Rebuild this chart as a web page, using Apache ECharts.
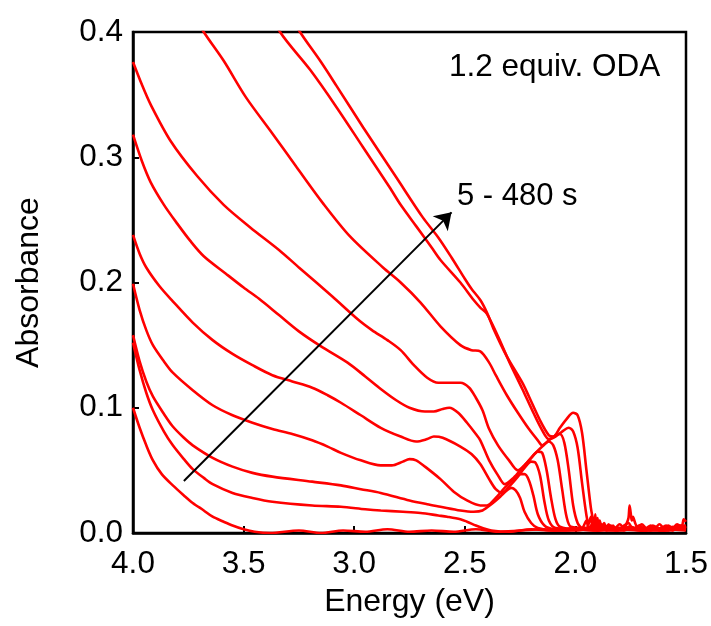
<!DOCTYPE html>
<html>
<head>
<meta charset="utf-8">
<script src="https://cdn.jsdelivr.net/npm/echarts@6/dist/echarts.min.js"></script>
<style>
html,body{margin:0;padding:0;background:#fff;}
#chart{width:711px;height:626px;}
</style>
</head>
<body>
<div id="chart"></div>
<script>
// Energy (eV) vs Absorbance, spectra from 5 s (first) to 480 s (last)
const X_TICKS = [4.0, 3.5, 3.0, 2.5, 2.0, 1.5];
const Y_TICKS = [0.0, 0.1, 0.2, 0.3, 0.4];
const LABEL_TOP = '1.2 equiv. ODA';
const LABEL_ARROW = '5 - 480 s';
const ARROW_FROM = [3.77, 0.0415];
const ARROW_TO = [2.56, 0.256];

const spec01 = [[4.00,0.100],[3.97,0.084],[3.94,0.070],[3.91,0.058],[3.87,0.047],[3.82,0.038],[3.77,0.030],[3.73,0.024],[3.68,0.018],[3.64,0.013],[3.59,0.009],[3.55,0.006],[3.50,0.003],[3.45,0.001],[3.38,0.000],[3.25,0.002],[3.15,0.000],[3.05,0.002],[2.95,0.001],[2.85,0.003],[2.75,0.001],[2.65,0.002],[2.55,0.001],[2.45,0.003],[2.35,0.001],[2.25,0.002],[2.15,0.003],[2.05,0.002],[1.95,0.004],[1.85,0.002],[1.75,0.003],[1.65,0.002],[1.55,0.003],[1.50,0.004]];
const spec02 = [[4.00,0.152],[3.97,0.130],[3.94,0.112],[3.91,0.098],[3.86,0.081],[3.82,0.070],[3.77,0.059],[3.73,0.051],[3.68,0.044],[3.64,0.039],[3.55,0.032],[3.46,0.028],[3.37,0.025],[3.19,0.022],[3.06,0.021],[2.95,0.019],[2.88,0.018],[2.78,0.017],[2.70,0.016],[2.62,0.014],[2.58,0.013],[2.52,0.011],[2.49,0.009],[2.45,0.006],[2.42,0.004],[2.38,0.002],[2.30,0.001],[2.20,0.003],[2.10,0.002],[2.00,0.003],[1.90,0.002],[1.80,0.004],[1.70,0.002],[1.60,0.003],[1.50,0.002]];
const spec03 = [[4.00,0.158],[3.97,0.137],[3.94,0.121],[3.91,0.109],[3.86,0.095],[3.82,0.085],[3.77,0.076],[3.73,0.070],[3.64,0.060],[3.55,0.053],[3.46,0.048],[3.37,0.045],[3.19,0.041],[3.06,0.038],[2.97,0.035],[2.88,0.032],[2.75,0.026],[2.67,0.023],[2.61,0.021],[2.52,0.018],[2.46,0.017],[2.42,0.018],[2.38,0.023],[2.34,0.029],[2.31,0.034],[2.29,0.036],[2.27,0.034],[2.25,0.028],[2.23,0.017],[2.20,0.008],[2.17,0.004],[2.10,0.002],[2.00,0.004],[1.90,0.003],[1.80,0.002],[1.70,0.004],[1.60,0.002],[1.50,0.004]];
const spec04 = [[4.00,0.199],[3.97,0.178],[3.94,0.162],[3.91,0.150],[3.86,0.137],[3.82,0.128],[3.73,0.114],[3.64,0.102],[3.55,0.094],[3.46,0.088],[3.37,0.083],[3.28,0.079],[3.19,0.074],[3.12,0.069],[3.06,0.064],[2.97,0.058],[2.88,0.054],[2.83,0.054],[2.78,0.057],[2.75,0.059],[2.72,0.058],[2.68,0.053],[2.61,0.043],[2.55,0.033],[2.49,0.026],[2.43,0.022],[2.40,0.022],[2.36,0.028],[2.32,0.036],[2.28,0.043],[2.25,0.047],[2.23,0.047],[2.21,0.042],[2.19,0.030],[2.17,0.015],[2.14,0.006],[2.10,0.003],[2.00,0.002],[1.90,0.004],[1.80,0.003],[1.70,0.002],[1.60,0.004],[1.50,0.003]];
const spec05 = [[4.00,0.238],[3.97,0.223],[3.94,0.212],[3.88,0.197],[3.82,0.185],[3.73,0.168],[3.64,0.154],[3.55,0.143],[3.46,0.134],[3.37,0.126],[3.28,0.121],[3.19,0.116],[3.12,0.110],[3.06,0.104],[2.97,0.094],[2.88,0.084],[2.79,0.077],[2.72,0.073],[2.67,0.075],[2.64,0.077],[2.60,0.076],[2.52,0.069],[2.47,0.063],[2.43,0.055],[2.39,0.043],[2.36,0.035],[2.33,0.032],[2.30,0.037],[2.26,0.045],[2.23,0.052],[2.20,0.057],[2.18,0.056],[2.16,0.046],[2.14,0.025],[2.12,0.010],[2.09,0.004],[2.00,0.003],[1.90,0.002],[1.80,0.004],[1.70,0.003],[1.60,0.002],[1.50,0.004]];
const spec06 = [[4.00,0.318],[3.96,0.297],[3.92,0.280],[3.86,0.262],[3.80,0.247],[3.74,0.233],[3.68,0.221],[3.58,0.207],[3.50,0.196],[3.43,0.187],[3.34,0.174],[3.25,0.161],[3.15,0.149],[3.03,0.136],[2.95,0.125],[2.88,0.115],[2.81,0.106],[2.75,0.100],[2.68,0.097],[2.64,0.097],[2.60,0.099],[2.57,0.100],[2.53,0.096],[2.49,0.088],[2.45,0.079],[2.43,0.074],[2.39,0.058],[2.35,0.046],[2.32,0.039],[2.28,0.044],[2.24,0.052],[2.20,0.060],[2.17,0.065],[2.15,0.064],[2.13,0.050],[2.11,0.028],[2.09,0.011],[2.07,0.005],[2.00,0.003],[1.90,0.004],[1.80,0.003],[1.70,0.004],[1.60,0.003],[1.50,0.004]];
const spec07 = [[4.00,0.376],[3.96,0.358],[3.92,0.342],[3.83,0.313],[3.71,0.285],[3.59,0.262],[3.47,0.244],[3.34,0.226],[3.25,0.212],[3.10,0.189],[2.98,0.170],[2.92,0.162],[2.85,0.154],[2.79,0.146],[2.73,0.134],[2.67,0.124],[2.62,0.120],[2.58,0.120],[2.52,0.120],[2.48,0.116],[2.45,0.108],[2.42,0.098],[2.39,0.083],[2.35,0.070],[2.30,0.058],[2.26,0.050],[2.23,0.054],[2.19,0.062],[2.15,0.069],[2.12,0.073],[2.10,0.070],[2.08,0.058],[2.06,0.035],[2.04,0.013],[2.02,0.005],[1.95,0.004],[1.90,0.008],[1.88,0.003],[1.85,0.006],[1.80,0.003],[1.75,0.005],[1.70,0.002],[1.65,0.005],[1.60,0.002],[1.55,0.005],[1.50,0.006]];
const spec08 = [[3.78,0.430],[3.68,0.400],[3.59,0.377],[3.49,0.348],[3.37,0.319],[3.26,0.292],[3.14,0.263],[3.02,0.237],[2.87,0.212],[2.79,0.200],[2.70,0.184],[2.61,0.165],[2.52,0.150],[2.47,0.146],[2.43,0.145],[2.39,0.136],[2.36,0.126],[2.31,0.110],[2.26,0.096],[2.21,0.083],[2.17,0.074],[2.15,0.070],[2.12,0.074],[2.09,0.078],[2.07,0.079],[2.05,0.072],[2.03,0.050],[2.01,0.022],[1.99,0.008],[1.97,0.004],[1.95,0.010],[1.94,0.003],[1.92,0.008],[1.90,0.002],[1.88,0.007],[1.86,0.003],[1.84,0.006],[1.81,0.002],[1.78,0.006],[1.76,0.008],[1.74,0.003],[1.71,0.006],[1.68,0.002],[1.65,0.006],[1.62,0.003],[1.59,0.006],[1.56,0.002],[1.53,0.006],[1.50,0.004]];
const spec09 = [[3.40,0.425],[3.335,0.400],[3.20,0.370],[3.08,0.340],[2.96,0.308],[2.84,0.276],[2.79,0.262],[2.72,0.245],[2.65,0.228],[2.61,0.218],[2.52,0.200],[2.46,0.186],[2.43,0.180],[2.40,0.175],[2.35,0.157],[2.30,0.137],[2.24,0.115],[2.19,0.096],[2.15,0.082],[2.12,0.075],[2.09,0.077],[2.06,0.081],[2.03,0.084],[2.01,0.081],[1.99,0.068],[1.97,0.040],[1.95,0.014],[1.94,0.007],[1.93,0.013],[1.92,0.004],[1.91,0.009],[1.90,0.002],[1.88,0.006],[1.86,0.002],[1.84,0.005],[1.82,0.002],[1.80,0.004],[1.78,0.002],[1.76,0.005],[1.74,0.003],[1.72,0.005],[1.70,0.002],[1.68,0.004],[1.66,0.002],[1.64,0.005],[1.62,0.002],[1.60,0.004],[1.58,0.002],[1.56,0.005],[1.54,0.003],[1.52,0.006],[1.50,0.004]];
const spec10 = [[3.31,0.420],[3.245,0.400],[3.15,0.376],[3.08,0.357],[2.96,0.324],[2.81,0.284],[2.69,0.252],[2.62,0.236],[2.56,0.220],[2.50,0.203],[2.47,0.195],[2.43,0.186],[2.40,0.176],[2.37,0.163],[2.31,0.141],[2.24,0.120],[2.21,0.109],[2.16,0.090],[2.12,0.078],[2.10,0.077],[2.07,0.084],[2.04,0.091],[2.01,0.096],[1.99,0.094],[1.97,0.080],[1.95,0.050],[1.93,0.020],[1.92,0.010],[1.915,0.004],[1.91,0.015],[1.905,0.003],[1.90,0.012],[1.895,0.004],[1.89,0.010],[1.88,0.003],[1.87,0.008],[1.86,0.004],[1.85,0.007],[1.84,0.003],[1.83,0.006],[1.82,0.004],[1.80,0.007],[1.78,0.004],[1.77,0.007],[1.76,0.012],[1.755,0.022],[1.75,0.016],[1.745,0.010],[1.74,0.013],[1.73,0.008],[1.72,0.005],[1.70,0.007],[1.68,0.004],[1.66,0.006],[1.64,0.004],[1.62,0.007],[1.60,0.004],[1.58,0.006],[1.56,0.004],[1.54,0.007],[1.52,0.005],[1.51,0.011],[1.50,0.009]];

const SPECTRA = [spec01, spec02, spec03, spec04, spec05, spec06, spec07, spec08, spec09, spec10];

const FONT = '"Liberation Sans", Arial, sans-serif';
const chart = echarts.init(document.getElementById('chart'), null, {renderer: 'canvas'});

const series = SPECTRA.map(function (d, i) {
  return {
    type: 'line',
    name: 'spectrum ' + (i + 1),
    data: d,
    showSymbol: false,
    smooth: 0.3,
    lineStyle: {color: '#ff0000', width: 2.6},
    itemStyle: {color: '#ff0000'},
    silent: true,
    animation: false,
    clip: true
  };
});

series.push({
  type: 'line',
  data: [],
  silent: true,
  animation: false,
  markLine: {
    silent: true,
    animation: false,
    symbol: ['none', 'arrow'],
    symbolSize: 16,
    label: {show: false},
    lineStyle: {color: '#000', width: 2, type: 'solid'},
    data: [[{coord: ARROW_FROM}, {coord: ARROW_TO}]]
  }
});

chart.setOption({
  backgroundColor: '#fff',
  animation: false,
  grid: {left: 133, right: 25, top: 32, bottom: 93, show: true, borderColor: '#000', borderWidth: 2.5, backgroundColor: 'transparent'},
  xAxis: {
    type: 'value', min: X_TICKS[X_TICKS.length - 1], max: X_TICKS[0], interval: 0.5, inverse: true,
    name: 'Energy (eV)', nameLocation: 'middle', nameGap: 53,
    nameTextStyle: {fontSize: 32, color: '#000', fontFamily: FONT},
    axisLine: {show: true, lineStyle: {color: '#000', width: 2.5}},
    axisTick: {show: true, inside: true, length: 7, lineStyle: {color: '#000', width: 2}},
    axisLabel: {fontSize: 31.5, color: '#000', margin: 15, fontFamily: FONT, formatter: function (v) { return v.toFixed(1); }},
    splitLine: {show: false}
  },
  yAxis: {
    type: 'value', min: Y_TICKS[0], max: Y_TICKS[Y_TICKS.length - 1], interval: 0.1,
    name: 'Absorbance', nameLocation: 'middle', nameGap: 88, nameRotate: 90,
    nameTextStyle: {fontSize: 32, color: '#000', fontFamily: FONT},
    axisLine: {show: true, lineStyle: {color: '#000', width: 2.5}},
    axisTick: {show: true, inside: true, length: 6, lineStyle: {color: '#000', width: 2}},
    axisLabel: {fontSize: 31.5, color: '#000', margin: 10, fontFamily: FONT, formatter: function (v) { return v.toFixed(1); }},
    splitLine: {show: false}
  },
  graphic: [
    {type: 'text', left: 449, top: 51, z: 100, style: {text: LABEL_TOP, font: '31.5px ' + FONT, fill: '#000'}},
    {type: 'text', left: 457, top: 181, z: 100, style: {text: LABEL_ARROW, font: '31px ' + FONT, fill: '#000'}}
  ],
  series: series
});
</script>
</body>
</html>
